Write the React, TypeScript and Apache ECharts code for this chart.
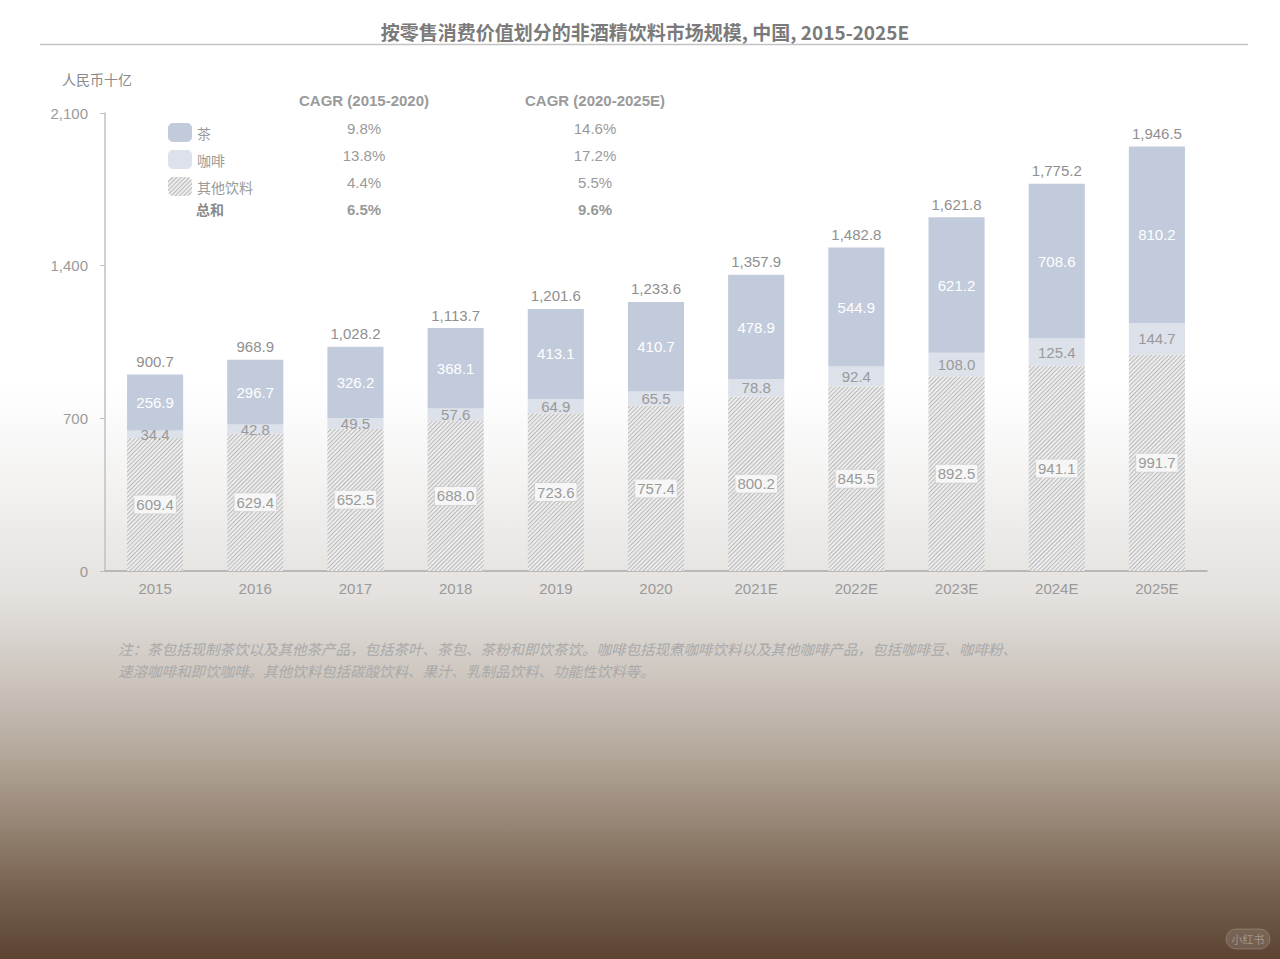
import React, { useEffect, useRef } from "react";
import * as echarts from "echarts";

const categories = ["2015", "2016", "2017", "2018", "2019", "2020", "2021E", "2022E", "2023E", "2024E", "2025E"];
const others = [609.4, 629.4, 652.5, 688.0, 723.6, 757.4, 800.2, 845.5, 892.5, 941.1, 991.7];
const coffee = [34.4, 42.8, 49.5, 57.6, 64.9, 65.5, 78.8, 92.4, 108.0, 125.4, 144.7];
const tea = [256.9, 296.7, 326.2, 368.1, 413.1, 410.7, 478.9, 544.9, 621.2, 708.6, 810.2];
const totals = [900.7, 968.9, 1028.2, 1113.7, 1201.6, 1233.6, 1357.9, 1482.8, 1621.8, 1775.2, 1946.5];

const seriesNames = ["茶", "咖啡", "其他饮料"];
const cagrLabels = ["茶", "咖啡", "其他饮料", "总和"];
const cagr1 = ["9.8%", "13.8%", "4.4%", "6.5%"];
const cagr2 = ["14.6%", "17.2%", "5.5%", "9.6%"];

const title = "按零售消费价值划分的非酒精饮料市场规模, 中国, 2015-2025E";
const unit = "人民币十亿";
const note1 = "注：茶包括现制茶饮以及其他茶产品，包括茶叶、茶包、茶粉和即饮茶饮。咖啡包括现煮咖啡饮料以及其他咖啡产品，包括咖啡豆、咖啡粉、";
const note2 = "速溶咖啡和即饮咖啡。其他饮料包括碳酸饮料、果汁、乳制品饮料、功能性饮料等。";

const NUM = "'Liberation Sans', Arial, sans-serif";
const CJK = "'Noto Sans CJK SC', sans-serif";

const fmt1 = (v: number) => v.toFixed(1);
const fmtTotal = (v: number) => v.toLocaleString("en-US", { minimumFractionDigits: 1, maximumFractionDigits: 1 });

export default function App() {
  const ref = useRef<HTMLDivElement>(null);
  useEffect(() => {
    document.body.style.margin = "0";
    const chart = echarts.init(ref.current!, null, { renderer: "svg" });
    const rowY = [128, 155, 182, 209];
    const graphics: any[] = [
      { type: "text", x: 645, y: 31, style: { text: title, font: `bold 19px ${CJK}`, fill: "#7a7a7a", align: "center", verticalAlign: "middle" } },
      { type: "line", shape: { x1: 40, y1: 44.5, x2: 1248, y2: 44.5 }, style: { stroke: "#c4c4c4", lineWidth: 1.5 } },
      { type: "text", x: 62, y: 72, style: { text: unit, font: `14px ${CJK}`, fill: "#8a8a8a" } },
      { type: "text", x: 364, y: 100, style: { text: "CAGR (2015-2020)", font: `bold 15px ${NUM}`, fill: "#9a9a9a", align: "center", verticalAlign: "middle" } },
      { type: "text", x: 595, y: 100, style: { text: "CAGR (2020-2025E)", font: `bold 15px ${NUM}`, fill: "#9a9a9a", align: "center", verticalAlign: "middle" } },
      { type: "text", x: 196, y: rowY[3], style: { text: cagrLabels[3], font: `bold 14px ${CJK}`, fill: "#8a8a8a", verticalAlign: "middle" } },
      { type: "text", x: 118, y: 648, style: { text: note1, font: `italic 14.5px ${CJK}`, fill: "#a9a9a9", verticalAlign: "middle" } },
      { type: "text", x: 118, y: 670, style: { text: note2, font: `italic 14.5px ${CJK}`, fill: "#a9a9a9", verticalAlign: "middle" } },
      { type: "rect", shape: { x: 1226, y: 929, width: 44, height: 20, r: 10 }, style: { fill: "rgba(255,255,255,0.12)", stroke: "rgba(255,255,255,0.2)" } },
      { type: "text", x: 1248, y: 939, style: { text: "小红书", font: `11px ${CJK}`, fill: "rgba(255,255,255,0.35)", align: "center", verticalAlign: "middle" } },
    ];
    for (let i = 0; i < 4; i++) {
      const bold = i === 3 ? "bold " : "";
      graphics.push({ type: "text", x: 364, y: rowY[i], style: { text: cagr1[i], font: `${bold}15px ${NUM}`, fill: "#9a9a9a", align: "center", verticalAlign: "middle" } });
      graphics.push({ type: "text", x: 595, y: rowY[i], style: { text: cagr2[i], font: `${bold}15px ${NUM}`, fill: "#9a9a9a", align: "center", verticalAlign: "middle" } });
    }

    const hatch = {
      symbol: "rect",
      symbolSize: 1,
      dashArrayX: [[1, 0]],
      dashArrayY: [1, 2],
      rotation: -Math.PI / 4,
      color: "rgba(165,165,165,0.7)",
    };

    chart.setOption({
      animation: false,
      backgroundColor: "transparent",
      graphic: graphics,
      legend: {
        orient: "vertical",
        left: 163,
        top: 118,
        itemWidth: 24,
        itemHeight: 19,
        itemGap: 8,
        selectedMode: false,
        data: [seriesNames[0], seriesNames[1], seriesNames[2]],
        textStyle: { color: "#9a9a9a", fontSize: 14, fontFamily: CJK },
      },
      grid: { left: 105, right: 73, top: 113, bottom: 388, containLabel: false },
      xAxis: {
        type: "category",
        data: categories,
        axisLine: { lineStyle: { color: "#a8a8a8", width: 1.5 } },
        axisTick: { show: false },
        axisLabel: { color: "#9a9a9a", fontSize: 15, fontFamily: NUM, margin: 10 },
      },
      yAxis: {
        type: "value",
        min: 0,
        max: 2100,
        interval: 700,
        splitLine: { show: false },
        axisLine: { show: true, lineStyle: { color: "#c0c0c0", width: 1.5 } },
        axisTick: { show: true, length: 5, lineStyle: { color: "#c0c0c0" } },
        axisLabel: { color: "#9a9a9a", fontSize: 15, fontFamily: NUM, margin: 17, formatter: (v: number) => v.toLocaleString("en-US") },
      },
      series: [
        {
          name: seriesNames[2],
          type: "bar",
          stack: "total",
          barWidth: "56%",
          data: others,
          itemStyle: { color: "#ececec", decal: hatch },
          label: {
            show: true,
            position: "inside",
            formatter: (p: any) => fmt1(p.value),
            color: "#9a9a9a",
            fontSize: 15,
            fontFamily: NUM,
            backgroundColor: "rgba(250,250,250,0.85)",
            borderColor: "#cfcfcf",
            borderWidth: 1,
            borderType: "dashed",
            padding: [2, 2, 1, 2],
          },
        },
        {
          name: seriesNames[1],
          type: "bar",
          stack: "total",
          data: coffee,
          itemStyle: { color: "#dce1ea" },
          label: { show: true, position: "inside", formatter: (p: any) => fmt1(p.value), color: "#9a9a9a", fontSize: 15, fontFamily: NUM },
        },
        {
          name: seriesNames[0],
          type: "bar",
          stack: "total",
          data: tea,
          itemStyle: { color: "#c2cbdb" },
          label: { show: true, position: "inside", formatter: (p: any) => fmt1(p.value), color: "#ffffff", fontSize: 15, fontFamily: NUM },
        },
        {
          name: "总计",
          type: "line",
          data: totals,
          symbol: "circle",
          symbolSize: 1,
          showSymbol: true,
          itemStyle: { color: "rgba(0,0,0,0)" },
          lineStyle: { width: 0, color: "rgba(0,0,0,0)" },
          silent: true,
          z: 5,
          label: { show: true, position: "top", distance: 5, formatter: (p: any) => fmtTotal(p.value), color: "#8f8f8f", fontSize: 15, fontFamily: NUM },
        },
      ],
    });
    return () => chart.dispose();
  }, []);

  return (
    <div
      style={{
        width: 1280,
        height: 959,
        background:
          "linear-gradient(to bottom, #ffffff 0%, #ffffff 40%, #f4f3f2 50%, #e4e1de 62%, #cfc8c1 70%, #b6aa9e 78%, #968574 86%, #76604d 93%, #5c4332 100%)",
      }}
    >
      <div ref={ref} style={{ width: 1280, height: 959 }} />
    </div>
  );
}
